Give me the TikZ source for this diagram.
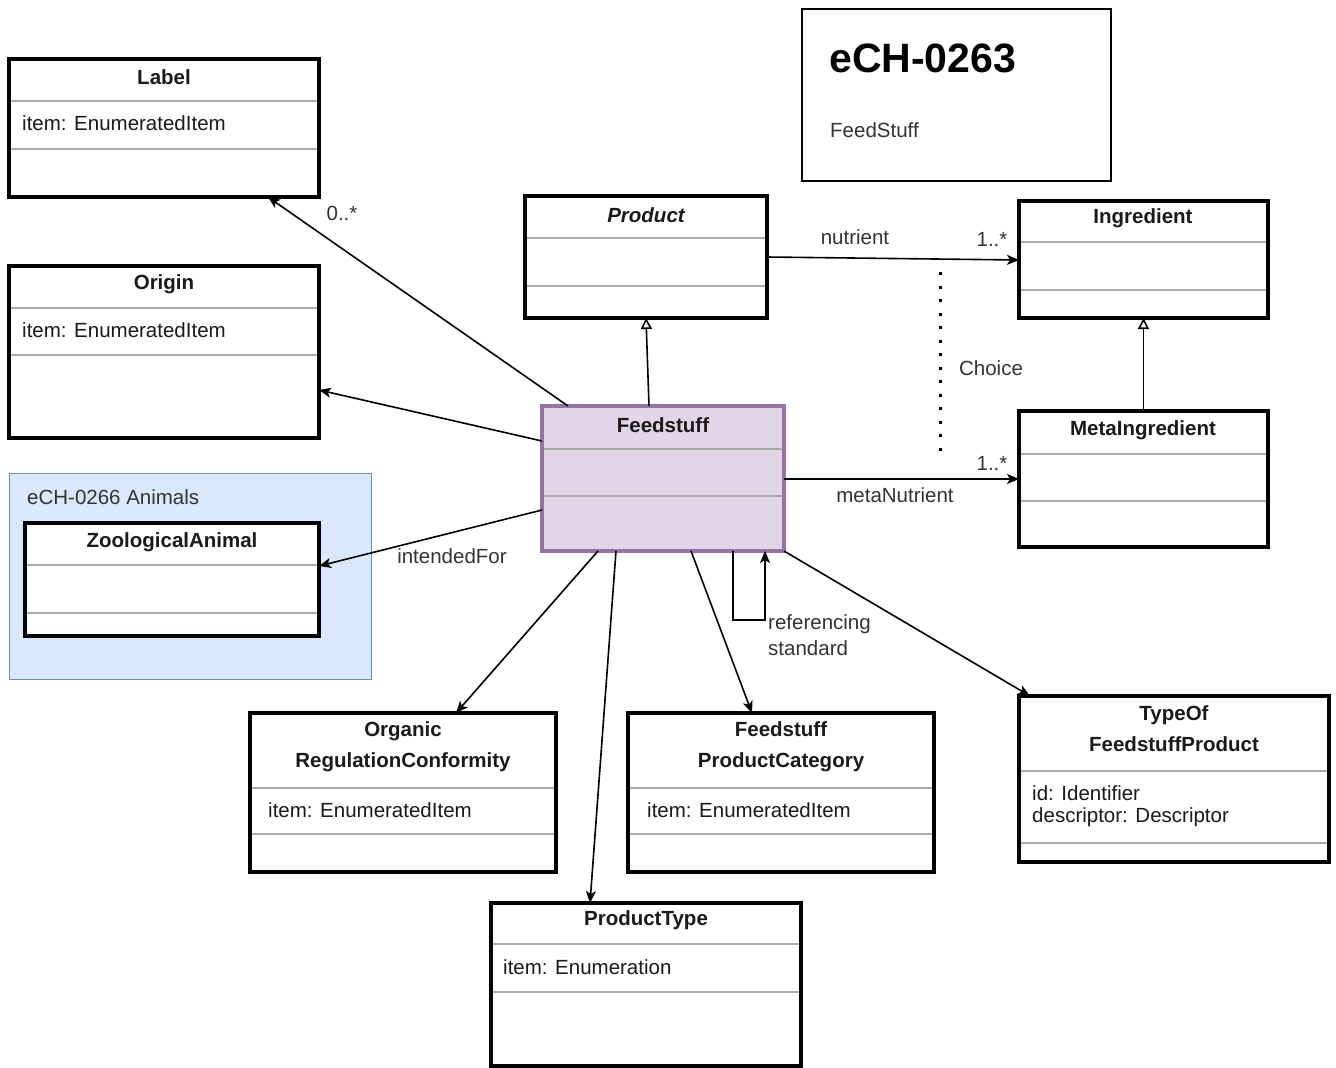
\documentclass[tikz,border=0pt]{standalone}
\usepackage{fontspec}
\setmainfont{Liberation Sans}
\usetikzlibrary{arrows.meta}
\definecolor{purfill}{HTML}{E1D5E7}
\definecolor{purline}{HTML}{9673A6}
\definecolor{bluefill}{HTML}{DAE8FC}
\definecolor{blueline}{HTML}{6C8EBF}
\definecolor{sepgray}{HTML}{AAAAAA}
\definecolor{txt}{HTML}{1A1A1A}
\newcommand\umlcls[8]{%
  \node[cls, #8, anchor=north west, minimum width=#4pt, minimum height=#5pt] (#1) at (#2,#3) {};
  \draw[sepline] ([yshift=-#6pt]#1.north west) -- ([yshift=-#6pt]#1.north east);
  \draw[sepline] ([yshift=-#7pt]#1.north west) -- ([yshift=-#7pt]#1.north east);
}
\begin{document}
\begin{tikzpicture}[x=1pt,y=-1pt,
  every node/.style={font=\fontsize{20.5}{24}\selectfont, text=txt},
  cls/.style={draw=black, line width=3.3pt, fill=white, inner sep=0pt, outer sep=0pt, rectangle},
  sepline/.style={draw=sepgray, line width=1.5pt, shorten <=1.6pt, shorten >=1.6pt},
  ttl/.style={font=\fontsize{20.5}{31}\selectfont\bfseries, align=center, inner sep=0pt},
  attr/.style={anchor=west, inner sep=0pt, align=left},
  elbl/.style={inner sep=0pt, text=black!80},
  assoc/.style={draw=black, line width=1.6pt, -{Stealth[length=12pt, width=10pt, inset=3pt]}},
  gen/.style={draw=black, line width=1.6pt, -{Triangle[open, length=11pt, width=11pt, fill=white]}}]
\useasboundingbox (0,0) rectangle (1336,1068);

% group and info boxes
\node[draw=blueline, fill=bluefill, line width=1.2pt, anchor=north west, minimum width=362pt, minimum height=206pt, inner sep=0pt] (animals) at (9,473) {};
\node[attr, text=black!80] (tAnimals) at (27,497) {eCH-0266 Animals};
\node[draw=black, line width=1.5pt, anchor=north west, minimum width=309pt, minimum height=172pt, inner sep=0pt] (info) at (801,8) {};
\node[anchor=west, inner sep=0pt, font=\fontsize{41}{48}\selectfont\bfseries, text=black] (tInfo) at (829,58) {eCH-0263};
\node[attr, text=black!80] (tInfoSub) at (830,130) {FeedStuff};

% classes
\umlcls{label}{9}{59}{310}{138}{42}{90}{}
\umlcls{origin}{9}{266}{310}{172}{42}{89}{}
\umlcls{product}{525}{196}{242}{122}{42}{90}{}
\umlcls{ingr}{1019}{201}{249}{117}{41}{89}{}
\umlcls{feed}{542}{406}{242}{145}{43}{90}{fill=purfill, draw=purline}
\umlcls{meta}{1019}{411}{249}{136}{43}{90}{}
\umlcls{zoo}{25}{523}{294}{113}{42}{90}{}
\umlcls{org}{250}{713}{306}{159}{75}{121}{}
\umlcls{fpc}{628}{713}{306}{159}{75}{121}{}
\umlcls{typeof}{1019}{696}{310}{166}{75}{147}{}
\umlcls{ptype}{491}{903}{310}{163}{41}{89}{}

% class texts
\node[ttl] (tLabel) at (164,77) {Label};
\node[attr] (aLabel) at (22,123) {item: EnumeratedItem};
\node[ttl] (tOrigin) at (164,284) {Origin};
\node[attr] (aOrigin) at (22,330) {item: EnumeratedItem};
\node[ttl, font=\fontsize{20.5}{24}\selectfont\bfseries\itshape] (tProduct) at (646,215) {Product};
\node[ttl] (tIngr) at (1143,218) {Ingredient};
\node[ttl] (tFeed) at (663,425) {Feedstuff};
\node[ttl] (tMeta) at (1143,430) {MetaIngredient};
\node[ttl] (tZoo) at (172,542) {ZoologicalAnimal};
\node[ttl] (tOrg) at (403,747) {Organic\\RegulationConformity};
\node[attr] (aOrg) at (268,810) {item: EnumeratedItem};
\node[ttl] (tFpc) at (781,747) {Feedstuff\\ProductCategory};
\node[attr] (aFpc) at (647,810) {item: EnumeratedItem};
\node[ttl] (tTypeof) at (1174,729) {TypeOf\\FeedstuffProduct};
\node[attr] (aTypeof1) at (1032,793) {id: Identifier};
\node[attr] (aTypeof2) at (1032,817) {descriptor: Descriptor};
\node[ttl] (tPtype) at (646,920) {ProductType};
\node[attr] (aPtype) at (503,967) {item: Enumeration};

% connectors
\draw[assoc] ([xshift=26pt]feed.north west) -- ([xshift=259pt]label.south west);
\draw[assoc] ([yshift=-35pt]feed.north west) -- ([yshift=-124pt]origin.north east);
\draw[assoc] ([yshift=-104pt]feed.north west) -- ([yshift=-43pt]zoo.north east);
\draw[gen] ([xshift=107pt]feed.north west) -- ([xshift=121pt]product.south west);
\draw[assoc] ([yshift=-61pt]product.north east) -- ([yshift=-59pt]ingr.north west);
\draw[gen] (meta.north) -- (ingr.south);
\draw[assoc] ([yshift=-73pt]feed.north east) -- ([yshift=-68pt]meta.north west);
\draw[assoc] ([xshift=56pt]feed.south west) -- ([xshift=206pt]org.north west);
\draw[assoc] ([xshift=74pt]feed.south west) -- ([xshift=99pt]ptype.north west);
\draw[assoc] ([xshift=149pt]feed.south west) -- ([xshift=124pt]fpc.north west);
\draw[assoc] ([xshift=191pt]feed.south west) -- ++(0,69) -- ++(32,0) -- ([xshift=223pt]feed.south west);
\draw[assoc] (feed.south east) -- ([xshift=11pt]typeof.north west);

% choice constraint
\coordinate (ch1) at (940,272);
\coordinate (ch2) at (940,455);
\draw[line width=3pt, dash pattern=on 3pt off 10.5pt] (ch1) -- (ch2);

% edge labels
\node[elbl] (lZero) at (342,213) {0..*};
\node[elbl] (lNutr) at (855,237) {nutrient};
\node[elbl] (lOne1) at (992,239) {1..*};
\node[elbl] (lChoice) at (991,368) {Choice};
\node[elbl] (lOne2) at (992,463) {1..*};
\node[elbl] (lMetaN) at (895,495) {metaNutrient};
\node[elbl] (lIntended) at (452,556) {intendedFor};
\node[elbl, anchor=west, align=left, font=\fontsize{20.5}{26}\selectfont] (lRef) at (768,635) {referencing\\standard};
\end{tikzpicture}
\end{document}
